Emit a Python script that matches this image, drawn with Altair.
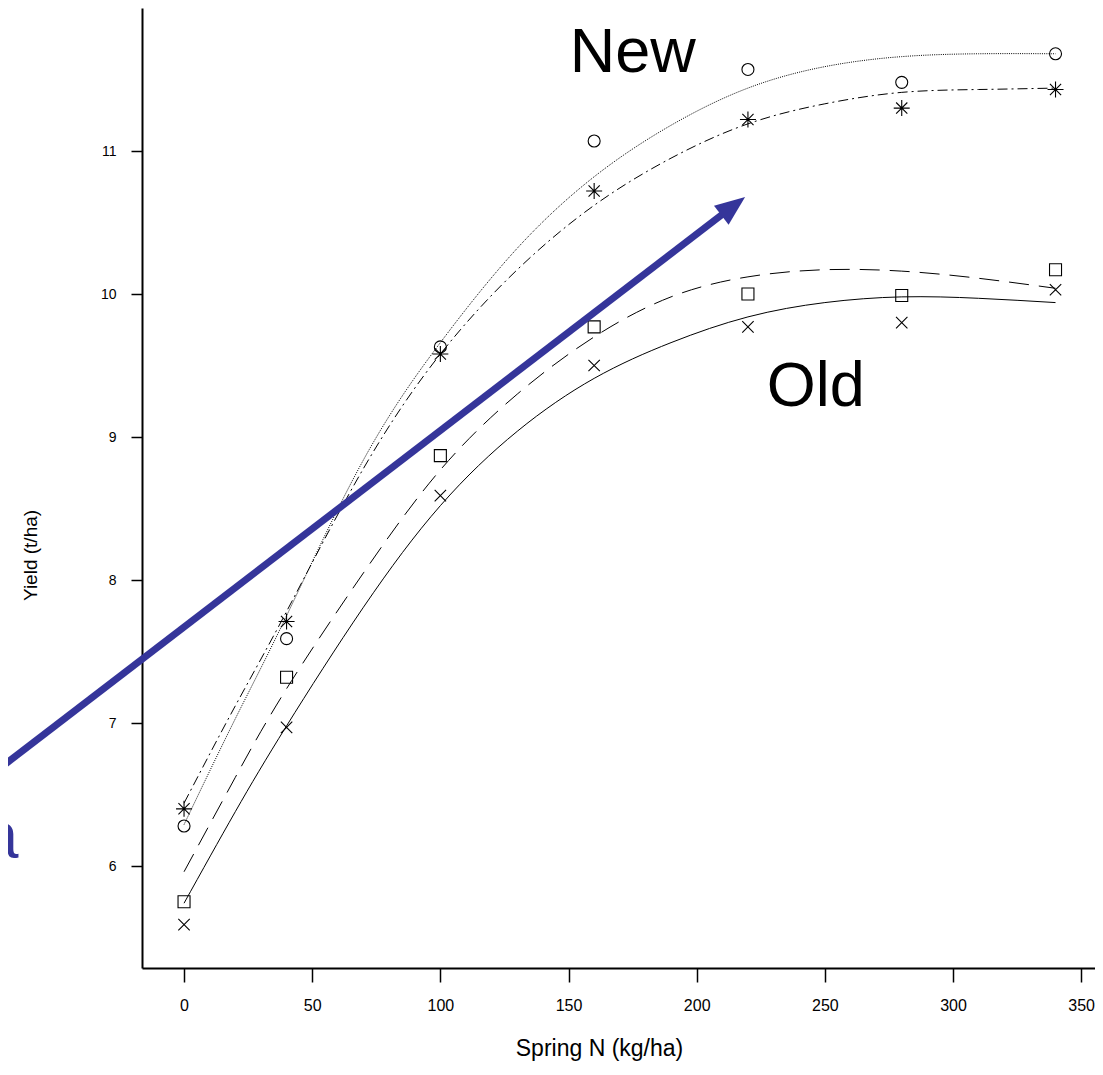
import altair as alt
import pandas as pd

# ---- measured values (Spring N in kg/ha, yield in t/ha) ----
N_RATE = [0, 40, 100, 160, 220, 280, 340]
NEW_CIRCLE = [6.28, 7.59, 9.63, 11.07, 11.57, 11.48, 11.68]
NEW_STAR = [6.40, 7.71, 9.58, 10.72, 11.22, 11.30, 11.43]
OLD_SQUARE = [5.75, 7.32, 8.87, 9.77, 10.00, 9.99, 10.17]
OLD_CROSS = [5.59, 6.97, 8.59, 9.50, 9.77, 9.80, 10.03]

# ---- fitted response curves ----
FIT_N = [0, 20, 40, 70, 100, 130, 160, 190, 220, 250, 280, 310, 340]
FIT_NEW_CIRCLE = [6.29, 7.03, 7.75, 8.84, 9.66, 10.32, 10.82, 11.18, 11.44, 11.59, 11.66, 11.68, 11.68]
FIT_NEW_STAR = [6.44, 7.12, 7.78, 8.78, 9.58, 10.17, 10.62, 10.95, 11.19, 11.33, 11.41, 11.43, 11.44]
FIT_OLD_SQUARE = [5.96, 6.62, 7.24, 8.05, 8.77, 9.30, 9.70, 9.98, 10.12, 10.17, 10.16, 10.11, 10.04]
FIT_OLD_CROSS = [5.74, 6.38, 6.98, 7.81, 8.52, 9.04, 9.41, 9.66, 9.84, 9.94, 9.98, 9.97, 9.94]

X_TICKS = [0, 50, 100, 150, 200, 250, 300, 350]
Y_TICKS = [6, 7, 8, 9, 10, 11]

GROUP_TEXT = ["New", "Old"]
GROUP_X = [150.5, 227.3]
GROUP_Y = [11.55, 9.22]

ARROW_X = [-75.7]
ARROW_Y = [6.631]
ARROW_X2 = [214.25]
ARROW_Y2 = [10.615]

CUT_TEXT = ["a"]
CUT_X = [-64.6]
CUT_Y = [6.056]

FONT = "Liberation Sans, Arial, sans-serif"
BLUE = "#35359a"

xs = alt.Scale(domain=[-16.4, 355.4], nice=False, zero=False)
ys = alt.Scale(domain=[5.287, 12.0], nice=False, zero=False)

x_axis = alt.Axis(
    values=X_TICKS, grid=False, domainColor="black", domainWidth=2,
    tickColor="black", tickWidth=1.5, tickSize=14,
    labelFont=FONT, labelFontSize=16, labelColor="black", labelPadding=15,
    title="Spring N (kg/ha)", titleFont=FONT, titleFontSize=23,
    titleFontWeight="normal", titleColor="black",
    titleX=457, titleY=87, titleAlign="center", titleBaseline="alphabetic",
)
y_axis = alt.Axis(
    values=Y_TICKS, grid=False, domainColor="black", domainWidth=2,
    tickColor="black", tickWidth=1.5, tickSize=11,
    labelFont=FONT, labelFontSize=14, labelColor="black", labelPadding=15,
    title="Yield (t/ha)", titleFont=FONT, titleFontSize=19,
    titleFontWeight="normal", titleColor="black",
    titleX=-112, titleY=547, titleAngle=270, titleAlign="center",
    titleBaseline="middle",
)


def X(field="x"):
    return alt.X(f"{field}:Q", scale=xs, axis=x_axis)


def Y(field="y"):
    return alt.Y(f"{field}:Q", scale=ys, axis=y_axis)


series = [
    (NEW_CIRCLE, FIT_NEW_CIRCLE, "circle", 144, [1, 1.2]),
    (NEW_STAR, FIT_NEW_STAR,
     "M-1,0L1,0M0,-1L0,1M-0.7,-0.7L0.7,0.7M-0.7,0.7L0.7,-0.7", 256, [10, 4, 2, 4]),
    (OLD_SQUARE, FIT_OLD_SQUARE, "square", 144, [20, 10]),
    (OLD_CROSS, FIT_OLD_CROSS, "M-1,-1L1,1M-1,1L1,-1", 130, None),
]

layers = []
for obs, fit, shape, size, dash in series:
    fit_df = pd.DataFrame({"x": FIT_N, "y": fit})
    line_kw = dict(color="black", strokeWidth=1, interpolate="natural")
    if dash is not None:
        line_kw["strokeDash"] = dash
    layers.append(alt.Chart(fit_df).mark_line(**line_kw).encode(x=X(), y=Y()))

for obs, fit, shape, size, dash in series:
    pts = pd.DataFrame({"x": N_RATE, "y": obs})
    layers.append(
        alt.Chart(pts).mark_point(
            shape=shape, size=size, filled=False, color="black",
            strokeWidth=1.1, opacity=1,
        ).encode(x=X(), y=Y())
    )

arrow_df = pd.DataFrame({"x": ARROW_X, "y": ARROW_Y, "x2": ARROW_X2, "y2": ARROW_Y2})
layers.append(
    alt.Chart(arrow_df).mark_rule(color=BLUE, strokeWidth=7, strokeCap="butt").encode(
        x=X(), y=Y(), x2="x2:Q", y2="y2:Q"
    )
)
head_df = pd.DataFrame({"x": ARROW_X2, "y": ARROW_Y2})
layers.append(
    alt.Chart(head_df).mark_point(
        shape="M1,0L-1,-0.8L-1,0.8Z", size=900, filled=True, color=BLUE,
        opacity=1, strokeWidth=0, angle=322.5,
    ).encode(x=X(), y=Y())
)

grp_df = pd.DataFrame({"x": GROUP_X, "y": GROUP_Y, "t": GROUP_TEXT})
layers.append(
    alt.Chart(grp_df).mark_text(
        align="left", baseline="alphabetic", font=FONT, fontSize=63, color="black"
    ).encode(x=X(), y=Y(), text="t:N")
)

cut_df = pd.DataFrame({"x": CUT_X, "y": CUT_Y, "t": CUT_TEXT})
layers.append(
    alt.Chart(cut_df).mark_text(
        align="right", baseline="alphabetic", font=FONT, fontSize=66, color=BLUE
    ).encode(x=X(), y=Y(), text="t:N")
)

chart = (
    alt.layer(*layers)
    .properties(
        width=953, height=960,
        padding={"left": 134, "top": 0, "right": 0, "bottom": 94},
        autosize=alt.AutoSizeParams(type="none"),
        background="white",
    )
    .configure_view(stroke=None)
)

chart.save("out.html", embed_options={"renderer": "svg", "actions": False})
